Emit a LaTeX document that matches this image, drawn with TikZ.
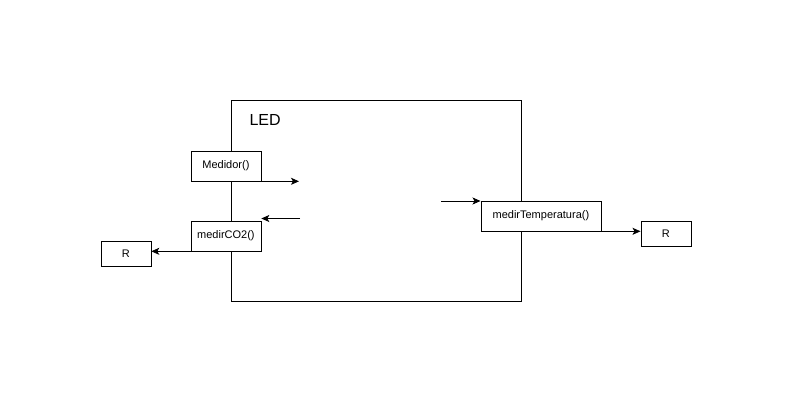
\documentclass[tikz,border=0pt]{standalone}
\usepackage{fontspec}
\setmainfont{Liberation Sans}
\usetikzlibrary{arrows.meta}
\begin{document}
\begin{tikzpicture}[x=1pt,y=-1pt,
  box/.style={draw,line width=0.8pt,fill=white,minimum height=30pt,inner sep=0pt,font=\fontsize{11}{13}\selectfont},
  conn/.style={line width=0.8pt,-{Stealth[length=8pt,width=7pt,inset=2pt]}}]
\useasboundingbox (0,0) rectangle (791,401);
\node[draw,line width=0.8pt,minimum width=290pt,minimum height=200pt,inner sep=0pt,anchor=north west] (led) at (230.5,100.5) {};
\node[anchor=west,font=\fontsize{16}{18}\selectfont] (ledlabel) at (246,120) {LED};
\node[box,minimum width=70pt,anchor=north west] (med) at (190.5,150.5) {Medidor()};
\node[box,minimum width=70pt,anchor=north west] (co2) at (190.5,220.5) {medirCO2()};
\node[box,minimum width=120pt,anchor=north west] (temp) at (480.5,200.5) {medirTemperatura()};
\node[box,minimum width=50pt,minimum height=25pt,anchor=north west] (rl) at (100.5,240.5) {R};
\node[box,minimum width=50pt,minimum height=25pt,anchor=north west] (rr) at (640.5,220.5) {R};
\coordinate (a1) at (299,180.5);
\coordinate (a2) at (300,218.5);
\coordinate (a3) at (441,201);
\draw[conn] (med.south east) -- (med.south east -| a1);
\draw[conn] (a2) -- (co2.north east |- a2);
\draw[conn] (co2.south west) -- (rl.east |- co2.south west);
\draw[conn] (a3) -- (temp.west |- a3);
\draw[conn] (temp.south east) -- (rr.west |- temp.south east);
\end{tikzpicture}
\end{document}
